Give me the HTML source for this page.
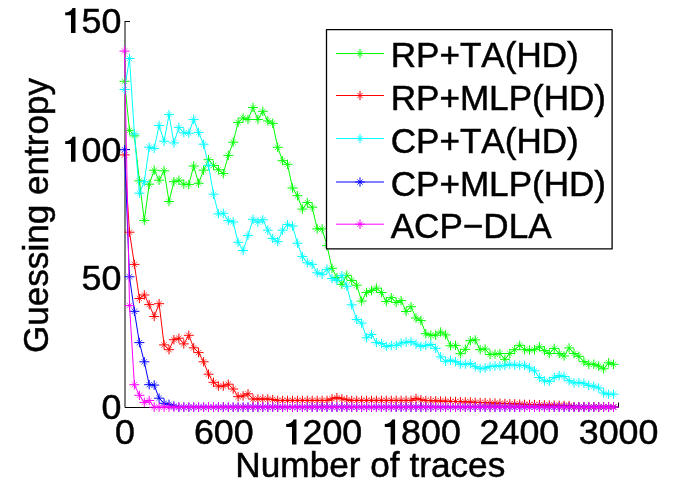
<!DOCTYPE html>
<html><head><meta charset="utf-8"><title>chart</title>
<style>
html,body{margin:0;padding:0;background:#fff;}
body{width:682px;height:496px;overflow:hidden;}
svg{display:block;will-change:transform;}
.l{font-size:35.1px !important;}
.k{font-size:35.8px !important;}
.t{stroke:#000;stroke-width:0.5px;font-family:"Liberation Sans",sans-serif;font-size:35.5px;fill:#000;font-kerning:none;}
</style></head><body>
<svg width="682" height="496" viewBox="0 0 682 496">
<rect width="682" height="496" fill="#fff"/>
<g stroke="#000" stroke-width="1" fill="none">
<path d="M125 21V407.5H618.5"/>
<path d="M125 21.5H130"/>
<path d="M125 149.5H130"/>
<path d="M223.5 407.5V402.5"/>
<path d="M322.5 407.5V402.5"/>
<path d="M421.0 407.5V402.5"/>
<path d="M519.5 407.5V402.5"/>
<path d="M618.5 407.5V402.5"/>
</g>
<polyline points="124.5,81.3 129.5,130.3 134.4,135.9 139.4,180.8 144.3,220.4 149.2,184.2 154.2,170.2 159.1,180.2 164.1,170.8 169.0,201.5 173.9,181.7 178.9,180.2 183.8,184.2 188.8,184.6 193.7,166.0 198.6,183.3 203.6,170.2 208.5,159.7 213.5,165.4 218.4,169.8 223.3,173.6 228.3,155.4 233.2,142.2 238.1,122.4 243.1,118.0 248.0,119.5 253.0,107.5 257.9,119.5 262.8,111.3 267.8,120.9 272.7,123.4 277.7,147.3 282.6,160.7 287.5,164.3 292.5,188.0 297.4,195.7 302.4,209.1 307.3,202.6 312.2,207.2 317.2,228.9 322.1,228.9 327.0,245.7 332.0,268.3 336.9,277.6 341.9,284.3 346.8,275.3 351.7,280.4 356.7,285.2 361.6,301.1 366.6,292.5 371.5,290.6 376.4,288.1 381.4,292.5 386.3,301.5 391.3,297.7 396.2,302.5 401.1,300.6 406.1,311.5 411.0,306.7 416.0,318.0 420.9,320.6 425.8,333.7 430.8,335.2 435.7,335.2 440.6,332.0 445.6,334.9 450.5,345.8 455.5,345.4 460.4,353.7 465.3,349.3 470.3,340.7 475.2,339.9 480.2,349.7 485.1,349.0 490.0,354.5 495.0,354.1 499.9,353.5 504.9,359.3 509.8,353.5 514.7,349.7 519.7,345.3 524.6,349.7 529.5,350.1 534.5,349.7 539.4,346.8 544.4,350.7 549.3,353.5 554.2,348.4 559.2,353.5 564.1,356.0 569.1,347.9 574.0,353.5 578.9,356.3 583.9,361.7 588.8,364.3 593.8,364.2 598.7,366.1 603.6,368.8 608.6,362.8 613.5,364.3" fill="none" stroke="#00ff00" stroke-width="1"/>
<path d="M119.5 81.3H129.6M124.5 76.6V86.0M124.5 130.3H134.5M129.5 125.6V135.0M129.4 135.9H139.4M134.4 131.2V140.6M134.4 180.8H144.4M139.4 176.1V185.5M139.3 220.4H149.3M144.3 215.7V225.1M144.2 184.2H154.2M149.2 179.5V188.9M149.2 170.2H159.2M154.2 165.5V174.9M154.1 180.2H164.1M159.1 175.5V184.9M159.1 170.8H169.1M164.1 166.1V175.5M164.0 201.5H174.0M169.0 196.8V206.2M168.9 181.7H178.9M173.9 177.0V186.4M173.9 180.2H183.9M178.9 175.5V184.9M178.8 184.2H188.8M183.8 179.5V188.9M183.8 184.6H193.8M188.8 179.9V189.3M188.7 166.0H198.7M193.7 161.3V170.7M193.6 183.3H203.6M198.6 178.6V188.0M198.6 170.2H208.6M203.6 165.5V174.9M203.5 159.7H213.5M208.5 155.0V164.4M208.5 165.4H218.5M213.5 160.7V170.1M213.4 169.8H223.4M218.4 165.1V174.5M218.3 173.6H228.3M223.3 168.9V178.3M223.3 155.4H233.3M228.3 150.7V160.1M228.2 142.2H238.2M233.2 137.5V146.9M233.1 122.4H243.1M238.1 117.7V127.1M238.1 118.0H248.1M243.1 113.3V122.7M243.0 119.5H253.0M248.0 114.8V124.2M248.0 107.5H258.0M253.0 102.8V112.2M252.9 119.5H262.9M257.9 114.8V124.2M257.8 111.3H267.8M262.8 106.6V116.0M262.8 120.9H272.8M267.8 116.2V125.6M267.7 123.4H277.7M272.7 118.7V128.1M272.7 147.3H282.7M277.7 142.6V152.0M277.6 160.7H287.6M282.6 156.0V165.4M282.5 164.3H292.5M287.5 159.6V169.0M287.5 188.0H297.5M292.5 183.3V192.7M292.4 195.7H302.4M297.4 191.0V200.4M297.4 209.1H307.4M302.4 204.4V213.8M302.3 202.6H312.3M307.3 197.9V207.3M307.2 207.2H317.2M312.2 202.5V211.9M312.2 228.9H322.2M317.2 224.2V233.6M317.1 228.9H327.1M322.1 224.2V233.6M322.0 245.7H332.0M327.0 241.0V250.4M327.0 268.3H337.0M332.0 263.6V273.0M331.9 277.6H341.9M336.9 272.9V282.3M336.9 284.3H346.9M341.9 279.6V289.0M341.8 275.3H351.8M346.8 270.6V280.0M346.7 280.4H356.7M351.7 275.7V285.1M351.7 285.2H361.7M356.7 280.5V289.9M356.6 301.1H366.6M361.6 296.4V305.8M361.6 292.5H371.6M366.6 287.8V297.2M366.5 290.6H376.5M371.5 285.9V295.3M371.4 288.1H381.4M376.4 283.4V292.8M376.4 292.5H386.4M381.4 287.8V297.2M381.3 301.5H391.3M386.3 296.8V306.2M386.3 297.7H396.3M391.3 293.0V302.4M391.2 302.5H401.2M396.2 297.8V307.2M396.1 300.6H406.1M401.1 295.9V305.3M401.1 311.5H411.1M406.1 306.8V316.2M406.0 306.7H416.0M411.0 302.0V311.4M411.0 318.0H421.0M416.0 313.3V322.7M415.9 320.6H425.9M420.9 315.9V325.3M420.8 333.7H430.8M425.8 329.0V338.4M425.8 335.2H435.8M430.8 330.5V339.9M430.7 335.2H440.7M435.7 330.5V339.9M435.6 332.0H445.6M440.6 327.3V336.7M440.6 334.9H450.6M445.6 330.2V339.6M445.5 345.8H455.5M450.5 341.1V350.5M450.5 345.4H460.5M455.5 340.7V350.1M455.4 353.7H465.4M460.4 349.0V358.4M460.3 349.3H470.3M465.3 344.6V354.0M465.3 340.7H475.3M470.3 336.0V345.4M470.2 339.9H480.2M475.2 335.2V344.6M475.2 349.7H485.2M480.2 345.0V354.4M480.1 349.0H490.1M485.1 344.3V353.7M485.0 354.5H495.0M490.0 349.8V359.2M490.0 354.1H500.0M495.0 349.4V358.8M494.9 353.5H504.9M499.9 348.8V358.2M499.9 359.3H509.9M504.9 354.6V364.0M504.8 353.5H514.8M509.8 348.8V358.2M509.7 349.7H519.7M514.7 345.0V354.4M514.7 345.3H524.7M519.7 340.6V350.0M519.6 349.7H529.6M524.6 345.0V354.4M524.5 350.1H534.5M529.5 345.4V354.8M529.5 349.7H539.5M534.5 345.0V354.4M534.4 346.8H544.4M539.4 342.1V351.5M539.4 350.7H549.4M544.4 346.0V355.4M544.3 353.5H554.3M549.3 348.8V358.2M549.2 348.4H559.2M554.2 343.7V353.1M554.2 353.5H564.2M559.2 348.8V358.2M559.1 356.0H569.1M564.1 351.3V360.7M564.1 347.9H574.1M569.1 343.2V352.6M569.0 353.5H579.0M574.0 348.8V358.2M573.9 356.3H583.9M578.9 351.6V361.0M578.9 361.7H588.9M583.9 357.0V366.4M583.8 364.3H593.8M588.8 359.6V369.0M588.8 364.2H598.8M593.8 359.5V368.9M593.7 366.1H603.7M598.7 361.4V370.8M598.6 368.8H608.6M603.6 364.1V373.5M603.6 362.8H613.6M608.6 358.1V367.5M608.5 364.3H618.5M613.5 359.6V369.0" fill="none" stroke="#00ff00" stroke-width="1"/>
<path d="M121.8 78.6L127.2 84.0M121.8 84.0L127.2 78.6M126.8 127.6L132.2 133.0M126.8 133.0L132.2 127.6M131.7 133.2L137.1 138.6M131.7 138.6L137.1 133.2M136.7 178.1L142.1 183.5M136.7 183.5L142.1 178.1M141.6 217.7L147.0 223.1M141.6 223.1L147.0 217.7M146.5 181.5L151.9 186.9M146.5 186.9L151.9 181.5M151.5 167.5L156.9 172.9M151.5 172.9L156.9 167.5M156.4 177.5L161.8 182.9M156.4 182.9L161.8 177.5M161.4 168.1L166.8 173.5M161.4 173.5L166.8 168.1M166.3 198.8L171.7 204.2M166.3 204.2L171.7 198.8M171.2 179.0L176.6 184.4M171.2 184.4L176.6 179.0M176.2 177.5L181.6 182.9M176.2 182.9L181.6 177.5M181.1 181.5L186.5 186.9M181.1 186.9L186.5 181.5M186.1 181.9L191.5 187.3M186.1 187.3L191.5 181.9M191.0 163.3L196.4 168.7M191.0 168.7L196.4 163.3M195.9 180.6L201.3 186.0M195.9 186.0L201.3 180.6M200.9 167.5L206.3 172.9M200.9 172.9L206.3 167.5M205.8 157.0L211.2 162.4M205.8 162.4L211.2 157.0M210.8 162.7L216.2 168.1M210.8 168.1L216.2 162.7M215.7 167.1L221.1 172.5M215.7 172.5L221.1 167.1M220.6 170.9L226.0 176.3M220.6 176.3L226.0 170.9M225.6 152.7L231.0 158.1M225.6 158.1L231.0 152.7M230.5 139.5L235.9 144.9M230.5 144.9L235.9 139.5M235.4 119.7L240.8 125.1M235.4 125.1L240.8 119.7M240.4 115.3L245.8 120.7M240.4 120.7L245.8 115.3M245.3 116.8L250.7 122.2M245.3 122.2L250.7 116.8M250.3 104.8L255.7 110.2M250.3 110.2L255.7 104.8M255.2 116.8L260.6 122.2M255.2 122.2L260.6 116.8M260.1 108.6L265.5 114.0M260.1 114.0L265.5 108.6M265.1 118.2L270.5 123.6M265.1 123.6L270.5 118.2M270.0 120.7L275.4 126.1M270.0 126.1L275.4 120.7M275.0 144.6L280.4 150.0M275.0 150.0L280.4 144.6M279.9 158.0L285.3 163.4M279.9 163.4L285.3 158.0M284.8 161.6L290.2 167.0M284.8 167.0L290.2 161.6M289.8 185.3L295.2 190.7M289.8 190.7L295.2 185.3M294.7 193.0L300.1 198.4M294.7 198.4L300.1 193.0M299.7 206.4L305.1 211.8M299.7 211.8L305.1 206.4M304.6 199.9L310.0 205.3M304.6 205.3L310.0 199.9M309.5 204.5L314.9 209.9M309.5 209.9L314.9 204.5M314.5 226.2L319.9 231.6M314.5 231.6L319.9 226.2M319.4 226.2L324.8 231.6M319.4 231.6L324.8 226.2M324.3 243.0L329.7 248.4M324.3 248.4L329.7 243.0M329.3 265.6L334.7 271.0M329.3 271.0L334.7 265.6M334.2 274.9L339.6 280.3M334.2 280.3L339.6 274.9M339.2 281.6L344.6 287.0M339.2 287.0L344.6 281.6M344.1 272.6L349.5 278.0M344.1 278.0L349.5 272.6M349.0 277.7L354.4 283.1M349.0 283.1L354.4 277.7M354.0 282.5L359.4 287.9M354.0 287.9L359.4 282.5M358.9 298.4L364.3 303.8M358.9 303.8L364.3 298.4M363.9 289.8L369.3 295.2M363.9 295.2L369.3 289.8M368.8 287.9L374.2 293.3M368.8 293.3L374.2 287.9M373.7 285.4L379.1 290.8M373.7 290.8L379.1 285.4M378.7 289.8L384.1 295.2M378.7 295.2L384.1 289.8M383.6 298.8L389.0 304.2M383.6 304.2L389.0 298.8M388.6 295.0L394.0 300.4M388.6 300.4L394.0 295.0M393.5 299.8L398.9 305.2M393.5 305.2L398.9 299.8M398.4 297.9L403.8 303.3M398.4 303.3L403.8 297.9M403.4 308.8L408.8 314.2M403.4 314.2L408.8 308.8M408.3 304.0L413.7 309.4M408.3 309.4L413.7 304.0M413.3 315.3L418.7 320.7M413.3 320.7L418.7 315.3M418.2 317.9L423.6 323.3M418.2 323.3L423.6 317.9M423.1 331.0L428.5 336.4M423.1 336.4L428.5 331.0M428.1 332.5L433.5 337.9M428.1 337.9L433.5 332.5M433.0 332.5L438.4 337.9M433.0 337.9L438.4 332.5M437.9 329.3L443.3 334.7M437.9 334.7L443.3 329.3M442.9 332.2L448.3 337.6M442.9 337.6L448.3 332.2M447.8 343.1L453.2 348.5M447.8 348.5L453.2 343.1M452.8 342.7L458.2 348.1M452.8 348.1L458.2 342.7M457.7 351.0L463.1 356.4M457.7 356.4L463.1 351.0M462.6 346.6L468.0 352.0M462.6 352.0L468.0 346.6M467.6 338.0L473.0 343.4M467.6 343.4L473.0 338.0M472.5 337.2L477.9 342.6M472.5 342.6L477.9 337.2M477.5 347.0L482.9 352.4M477.5 352.4L482.9 347.0M482.4 346.3L487.8 351.7M482.4 351.7L487.8 346.3M487.3 351.8L492.7 357.2M487.3 357.2L492.7 351.8M492.3 351.4L497.7 356.8M492.3 356.8L497.7 351.4M497.2 350.8L502.6 356.2M497.2 356.2L502.6 350.8M502.2 356.6L507.6 362.0M502.2 362.0L507.6 356.6M507.1 350.8L512.5 356.2M507.1 356.2L512.5 350.8M512.0 347.0L517.4 352.4M512.0 352.4L517.4 347.0M517.0 342.6L522.4 348.0M517.0 348.0L522.4 342.6M521.9 347.0L527.3 352.4M521.9 352.4L527.3 347.0M526.8 347.4L532.2 352.8M526.8 352.8L532.2 347.4M531.8 347.0L537.2 352.4M531.8 352.4L537.2 347.0M536.7 344.1L542.1 349.5M536.7 349.5L542.1 344.1M541.7 348.0L547.1 353.4M541.7 353.4L547.1 348.0M546.6 350.8L552.0 356.2M546.6 356.2L552.0 350.8M551.5 345.7L556.9 351.1M551.5 351.1L556.9 345.7M556.5 350.8L561.9 356.2M556.5 356.2L561.9 350.8M561.4 353.3L566.8 358.7M561.4 358.7L566.8 353.3M566.4 345.2L571.8 350.6M566.4 350.6L571.8 345.2M571.3 350.8L576.7 356.2M571.3 356.2L576.7 350.8M576.2 353.6L581.6 359.0M576.2 359.0L581.6 353.6M581.2 359.0L586.6 364.4M581.2 364.4L586.6 359.0M586.1 361.6L591.5 367.0M586.1 367.0L591.5 361.6M591.1 361.5L596.5 366.9M591.1 366.9L596.5 361.5M596.0 363.4L601.4 368.8M596.0 368.8L601.4 363.4M600.9 366.1L606.3 371.5M600.9 371.5L606.3 366.1M605.9 360.1L611.3 365.5M605.9 365.5L611.3 360.1M610.8 361.6L616.2 367.0M610.8 367.0L616.2 361.6" fill="none" stroke="#00ff00" stroke-width="0.7"/>

<polyline points="124.5,154.9 129.5,232.2 134.4,264.4 139.4,298.5 144.3,295.0 149.2,304.6 154.2,316.5 159.1,303.7 164.1,344.9 169.0,349.7 173.9,339.7 178.9,338.2 183.8,343.9 188.8,335.3 193.7,347.8 198.6,352.6 203.6,361.8 208.5,374.2 213.5,382.3 218.4,386.1 223.3,386.1 228.3,384.2 233.2,389.0 238.1,396.7 243.1,395.9 248.0,393.8 253.0,399.0 257.9,399.0 262.8,399.0 267.8,399.0 272.7,399.5 277.7,400.4 282.6,400.4 287.5,400.4 292.5,400.4 297.4,400.4 302.4,400.4 307.3,400.4 312.2,400.4 317.2,400.4 322.1,400.4 327.0,400.4 332.0,398.8 336.9,397.6 341.9,398.8 346.8,399.8 351.7,400.4 356.7,400.4 361.6,400.4 366.6,400.4 371.5,400.4 376.4,400.4 381.4,400.4 386.3,400.4 391.3,400.4 396.2,400.4 401.1,400.4 406.1,400.4 411.0,400.4 416.0,398.4 420.9,399.8 425.8,400.5 430.8,400.7 435.7,400.8 440.6,401.0 445.6,401.2 450.5,401.4 455.5,401.5 460.4,401.7 465.3,401.9 470.3,402.0 475.2,402.3 480.2,402.5 485.1,402.7 490.0,402.9 495.0,403.1 499.9,403.3 504.9,403.5 509.8,403.7 514.7,403.9 519.7,404.1 524.6,404.3 529.5,404.4 534.5,404.6 539.4,404.7 544.4,404.9 549.3,405.0 554.2,405.2 559.2,405.3 564.1,405.5 569.1,405.6 574.0,406.8 578.9,406.8 583.9,406.8 588.8,406.8 593.8,406.8 598.7,406.8 603.6,406.8 608.6,406.8 613.5,406.8" fill="none" stroke="#ff0000" stroke-width="1"/>
<path d="M119.5 154.9H129.6M124.5 150.2V159.6M124.5 232.2H134.5M129.5 227.5V236.9M129.4 264.4H139.4M134.4 259.7V269.1M134.4 298.5H144.4M139.4 293.8V303.2M139.3 295.0H149.3M144.3 290.3V299.7M144.2 304.6H154.2M149.2 299.9V309.3M149.2 316.5H159.2M154.2 311.8V321.2M154.1 303.7H164.1M159.1 299.0V308.4M159.1 344.9H169.1M164.1 340.2V349.6M164.0 349.7H174.0M169.0 345.0V354.4M168.9 339.7H178.9M173.9 335.0V344.4M173.9 338.2H183.9M178.9 333.5V342.9M178.8 343.9H188.8M183.8 339.2V348.6M183.8 335.3H193.8M188.8 330.6V340.0M188.7 347.8H198.7M193.7 343.1V352.5M193.6 352.6H203.6M198.6 347.9V357.3M198.6 361.8H208.6M203.6 357.1V366.5M203.5 374.2H213.5M208.5 369.5V378.9M208.5 382.3H218.5M213.5 377.6V387.0M213.4 386.1H223.4M218.4 381.4V390.8M218.3 386.1H228.3M223.3 381.4V390.8M223.3 384.2H233.3M228.3 379.5V388.9M228.2 389.0H238.2M233.2 384.3V393.7M233.1 396.7H243.1M238.1 392.0V401.4M238.1 395.9H248.1M243.1 391.2V400.6M243.0 393.8H253.0M248.0 389.1V398.5M248.0 399.0H258.0M253.0 394.3V403.7M252.9 399.0H262.9M257.9 394.3V403.7M257.8 399.0H267.8M262.8 394.3V403.7M262.8 399.0H272.8M267.8 394.3V403.7M267.7 399.5H277.7M272.7 394.8V404.2M272.7 400.4H282.7M277.7 395.7V405.1M277.6 400.4H287.6M282.6 395.7V405.1M282.5 400.4H292.5M287.5 395.7V405.1M287.5 400.4H297.5M292.5 395.7V405.1M292.4 400.4H302.4M297.4 395.7V405.1M297.4 400.4H307.4M302.4 395.7V405.1M302.3 400.4H312.3M307.3 395.7V405.1M307.2 400.4H317.2M312.2 395.7V405.1M312.2 400.4H322.2M317.2 395.7V405.1M317.1 400.4H327.1M322.1 395.7V405.1M322.0 400.4H332.0M327.0 395.7V405.1M327.0 398.8H337.0M332.0 394.1V403.5M331.9 397.6H341.9M336.9 392.9V402.3M336.9 398.8H346.9M341.9 394.1V403.5M341.8 399.8H351.8M346.8 395.1V404.5M346.7 400.4H356.7M351.7 395.7V405.1M351.7 400.4H361.7M356.7 395.7V405.1M356.6 400.4H366.6M361.6 395.7V405.1M361.6 400.4H371.6M366.6 395.7V405.1M366.5 400.4H376.5M371.5 395.7V405.1M371.4 400.4H381.4M376.4 395.7V405.1M376.4 400.4H386.4M381.4 395.7V405.1M381.3 400.4H391.3M386.3 395.7V405.1M386.3 400.4H396.3M391.3 395.7V405.1M391.2 400.4H401.2M396.2 395.7V405.1M396.1 400.4H406.1M401.1 395.7V405.1M401.1 400.4H411.1M406.1 395.7V405.1M406.0 400.4H416.0M411.0 395.7V405.1M411.0 398.4H421.0M416.0 393.7V403.1M415.9 399.8H425.9M420.9 395.1V404.5M420.8 400.5H430.8M425.8 395.8V405.2M425.8 400.7H435.8M430.8 396.0V405.4M430.7 400.8H440.7M435.7 396.1V405.5M435.6 401.0H445.6M440.6 396.3V405.7M440.6 401.2H450.6M445.6 396.5V405.9M445.5 401.4H455.5M450.5 396.7V406.1M450.5 401.5H460.5M455.5 396.8V406.2M455.4 401.7H465.4M460.4 397.0V406.4M460.3 401.9H470.3M465.3 397.2V406.6M465.3 402.0H475.3M470.3 397.3V406.7M470.2 402.3H480.2M475.2 397.6V407.0M475.2 402.5H485.2M480.2 397.8V407.2M480.1 402.7H490.1M485.1 398.0V407.4M485.0 402.9H495.0M490.0 398.2V407.6M490.0 403.1H500.0M495.0 398.4V407.8M494.9 403.3H504.9M499.9 398.6V408.0M499.9 403.5H509.9M504.9 398.8V408.2M504.8 403.7H514.8M509.8 399.0V408.4M509.7 403.9H519.7M514.7 399.2V408.6M514.7 404.1H524.7M519.7 399.4V408.8M519.6 404.3H529.6M524.6 399.6V409.0M524.5 404.4H534.5M529.5 399.7V409.1M529.5 404.6H539.5M534.5 399.9V409.3M534.4 404.7H544.4M539.4 400.0V409.4M539.4 404.9H549.4M544.4 400.2V409.6M544.3 405.0H554.3M549.3 400.3V409.7M549.2 405.2H559.2M554.2 400.5V409.9M554.2 405.3H564.2M559.2 400.6V410.0M559.1 405.5H569.1M564.1 400.8V410.2M564.1 405.6H574.1M569.1 400.9V410.3M569.0 406.8H579.0M574.0 402.1V411.5M573.9 406.8H583.9M578.9 402.1V411.5M578.9 406.8H588.9M583.9 402.1V411.5M583.8 406.8H593.8M588.8 402.1V411.5M588.8 406.8H598.8M593.8 402.1V411.5M593.7 406.8H603.7M598.7 402.1V411.5M598.6 406.8H608.6M603.6 402.1V411.5M603.6 406.8H613.6M608.6 402.1V411.5M608.5 406.8H618.5M613.5 402.1V411.5" fill="none" stroke="#ff0000" stroke-width="1"/>
<path d="M121.8 152.2L127.2 157.6M121.8 157.6L127.2 152.2M126.8 229.5L132.2 234.9M126.8 234.9L132.2 229.5M131.7 261.7L137.1 267.1M131.7 267.1L137.1 261.7M136.7 295.8L142.1 301.2M136.7 301.2L142.1 295.8M141.6 292.3L147.0 297.7M141.6 297.7L147.0 292.3M146.5 301.9L151.9 307.3M146.5 307.3L151.9 301.9M151.5 313.8L156.9 319.2M151.5 319.2L156.9 313.8M156.4 301.0L161.8 306.4M156.4 306.4L161.8 301.0M161.4 342.2L166.8 347.6M161.4 347.6L166.8 342.2M166.3 347.0L171.7 352.4M166.3 352.4L171.7 347.0M171.2 337.0L176.6 342.4M171.2 342.4L176.6 337.0M176.2 335.5L181.6 340.9M176.2 340.9L181.6 335.5M181.1 341.2L186.5 346.6M181.1 346.6L186.5 341.2M186.1 332.6L191.5 338.0M186.1 338.0L191.5 332.6M191.0 345.1L196.4 350.5M191.0 350.5L196.4 345.1M195.9 349.9L201.3 355.3M195.9 355.3L201.3 349.9M200.9 359.1L206.3 364.5M200.9 364.5L206.3 359.1M205.8 371.5L211.2 376.9M205.8 376.9L211.2 371.5M210.8 379.6L216.2 385.0M210.8 385.0L216.2 379.6M215.7 383.4L221.1 388.8M215.7 388.8L221.1 383.4M220.6 383.4L226.0 388.8M220.6 388.8L226.0 383.4M225.6 381.5L231.0 386.9M225.6 386.9L231.0 381.5M230.5 386.3L235.9 391.7M230.5 391.7L235.9 386.3M235.4 394.0L240.8 399.4M235.4 399.4L240.8 394.0M240.4 393.2L245.8 398.6M240.4 398.6L245.8 393.2M245.3 391.1L250.7 396.5M245.3 396.5L250.7 391.1M250.3 396.3L255.7 401.7M250.3 401.7L255.7 396.3M255.2 396.3L260.6 401.7M255.2 401.7L260.6 396.3M260.1 396.3L265.5 401.7M260.1 401.7L265.5 396.3M265.1 396.3L270.5 401.7M265.1 401.7L270.5 396.3M270.0 396.8L275.4 402.2M270.0 402.2L275.4 396.8M275.0 397.7L280.4 403.1M275.0 403.1L280.4 397.7M279.9 397.7L285.3 403.1M279.9 403.1L285.3 397.7M284.8 397.7L290.2 403.1M284.8 403.1L290.2 397.7M289.8 397.7L295.2 403.1M289.8 403.1L295.2 397.7M294.7 397.7L300.1 403.1M294.7 403.1L300.1 397.7M299.7 397.7L305.1 403.1M299.7 403.1L305.1 397.7M304.6 397.7L310.0 403.1M304.6 403.1L310.0 397.7M309.5 397.7L314.9 403.1M309.5 403.1L314.9 397.7M314.5 397.7L319.9 403.1M314.5 403.1L319.9 397.7M319.4 397.7L324.8 403.1M319.4 403.1L324.8 397.7M324.3 397.7L329.7 403.1M324.3 403.1L329.7 397.7M329.3 396.1L334.7 401.5M329.3 401.5L334.7 396.1M334.2 394.9L339.6 400.3M334.2 400.3L339.6 394.9M339.2 396.1L344.6 401.5M339.2 401.5L344.6 396.1M344.1 397.1L349.5 402.5M344.1 402.5L349.5 397.1M349.0 397.7L354.4 403.1M349.0 403.1L354.4 397.7M354.0 397.7L359.4 403.1M354.0 403.1L359.4 397.7M358.9 397.7L364.3 403.1M358.9 403.1L364.3 397.7M363.9 397.7L369.3 403.1M363.9 403.1L369.3 397.7M368.8 397.7L374.2 403.1M368.8 403.1L374.2 397.7M373.7 397.7L379.1 403.1M373.7 403.1L379.1 397.7M378.7 397.7L384.1 403.1M378.7 403.1L384.1 397.7M383.6 397.7L389.0 403.1M383.6 403.1L389.0 397.7M388.6 397.7L394.0 403.1M388.6 403.1L394.0 397.7M393.5 397.7L398.9 403.1M393.5 403.1L398.9 397.7M398.4 397.7L403.8 403.1M398.4 403.1L403.8 397.7M403.4 397.7L408.8 403.1M403.4 403.1L408.8 397.7M408.3 397.7L413.7 403.1M408.3 403.1L413.7 397.7M413.3 395.7L418.7 401.1M413.3 401.1L418.7 395.7M418.2 397.1L423.6 402.5M418.2 402.5L423.6 397.1M423.1 397.8L428.5 403.2M423.1 403.2L428.5 397.8M428.1 398.0L433.5 403.4M428.1 403.4L433.5 398.0M433.0 398.1L438.4 403.5M433.0 403.5L438.4 398.1M437.9 398.3L443.3 403.7M437.9 403.7L443.3 398.3M442.9 398.5L448.3 403.9M442.9 403.9L448.3 398.5M447.8 398.7L453.2 404.1M447.8 404.1L453.2 398.7M452.8 398.8L458.2 404.2M452.8 404.2L458.2 398.8M457.7 399.0L463.1 404.4M457.7 404.4L463.1 399.0M462.6 399.2L468.0 404.6M462.6 404.6L468.0 399.2M467.6 399.3L473.0 404.7M467.6 404.7L473.0 399.3M472.5 399.6L477.9 405.0M472.5 405.0L477.9 399.6M477.5 399.8L482.9 405.2M477.5 405.2L482.9 399.8M482.4 400.0L487.8 405.4M482.4 405.4L487.8 400.0M487.3 400.2L492.7 405.6M487.3 405.6L492.7 400.2M492.3 400.4L497.7 405.8M492.3 405.8L497.7 400.4M497.2 400.6L502.6 406.0M497.2 406.0L502.6 400.6M502.2 400.8L507.6 406.2M502.2 406.2L507.6 400.8M507.1 401.0L512.5 406.4M507.1 406.4L512.5 401.0M512.0 401.2L517.4 406.6M512.0 406.6L517.4 401.2M517.0 401.4L522.4 406.8M517.0 406.8L522.4 401.4M521.9 401.6L527.3 407.0M521.9 407.0L527.3 401.6M526.8 401.7L532.2 407.1M526.8 407.1L532.2 401.7M531.8 401.9L537.2 407.3M531.8 407.3L537.2 401.9M536.7 402.0L542.1 407.4M536.7 407.4L542.1 402.0M541.7 402.2L547.1 407.6M541.7 407.6L547.1 402.2M546.6 402.3L552.0 407.7M546.6 407.7L552.0 402.3M551.5 402.5L556.9 407.9M551.5 407.9L556.9 402.5M556.5 402.6L561.9 408.0M556.5 408.0L561.9 402.6M561.4 402.8L566.8 408.2M561.4 408.2L566.8 402.8M566.4 402.9L571.8 408.3M566.4 408.3L571.8 402.9M571.3 404.1L576.7 409.5M571.3 409.5L576.7 404.1M576.2 404.1L581.6 409.5M576.2 409.5L581.6 404.1M581.2 404.1L586.6 409.5M581.2 409.5L586.6 404.1M586.1 404.1L591.5 409.5M586.1 409.5L591.5 404.1M591.1 404.1L596.5 409.5M591.1 409.5L596.5 404.1M596.0 404.1L601.4 409.5M596.0 409.5L601.4 404.1M600.9 404.1L606.3 409.5M600.9 409.5L606.3 404.1M605.9 404.1L611.3 409.5M605.9 409.5L611.3 404.1M610.8 404.1L616.2 409.5M610.8 409.5L616.2 404.1" fill="none" stroke="#ff0000" stroke-width="0.7"/>

<polyline points="124.5,89.5 129.5,58.5 134.4,134.0 139.4,193.2 144.3,181.7 149.2,147.2 154.2,148.4 159.1,125.5 164.1,141.2 169.0,114.6 173.9,142.9 178.9,127.4 183.8,132.8 188.8,133.2 193.7,119.4 198.6,132.4 203.6,144.2 208.5,165.4 213.5,194.2 218.4,213.9 223.3,213.3 228.3,220.6 233.2,222.0 238.1,242.3 243.1,250.5 248.0,235.6 253.0,219.3 257.9,222.1 262.8,219.8 267.8,230.2 272.7,238.4 277.7,241.7 282.6,230.2 287.5,224.6 292.5,226.0 297.4,243.2 302.4,256.6 307.3,262.8 312.2,264.3 317.2,272.8 322.1,274.3 327.0,269.3 332.0,278.5 336.9,280.4 341.9,275.7 346.8,286.2 351.7,304.8 356.7,319.5 361.6,323.1 366.6,337.8 371.5,334.5 376.4,342.6 381.4,343.5 386.3,346.4 391.3,345.4 396.2,345.4 401.1,343.0 406.1,342.2 411.0,341.6 416.0,344.1 420.9,346.4 425.8,345.4 430.8,344.5 435.7,348.3 440.6,356.9 445.6,361.3 450.5,360.2 455.5,361.7 460.4,364.2 465.3,364.2 470.3,363.6 475.2,366.7 480.2,368.7 485.1,368.0 490.0,366.6 495.0,366.0 499.9,366.0 504.9,365.4 509.8,364.4 514.7,365.0 519.7,365.4 524.6,365.4 529.5,367.9 534.5,370.8 539.4,377.5 544.4,380.9 549.3,381.3 554.2,377.5 559.2,375.6 564.1,376.5 569.1,380.7 574.0,383.0 578.9,382.5 583.9,383.3 588.8,385.4 593.8,386.2 598.7,388.0 603.6,393.0 608.6,394.2 613.5,394.2" fill="none" stroke="#00ffff" stroke-width="1"/>
<path d="M119.5 89.5H129.6M124.5 84.8V94.2M124.5 58.5H134.5M129.5 53.8V63.2M129.4 134.0H139.4M134.4 129.3V138.7M134.4 193.2H144.4M139.4 188.5V197.9M139.3 181.7H149.3M144.3 177.0V186.4M144.2 147.2H154.2M149.2 142.5V151.9M149.2 148.4H159.2M154.2 143.7V153.1M154.1 125.5H164.1M159.1 120.8V130.2M159.1 141.2H169.1M164.1 136.5V145.9M164.0 114.6H174.0M169.0 109.9V119.3M168.9 142.9H178.9M173.9 138.2V147.6M173.9 127.4H183.9M178.9 122.7V132.1M178.8 132.8H188.8M183.8 128.1V137.5M183.8 133.2H193.8M188.8 128.5V137.9M188.7 119.4H198.7M193.7 114.7V124.1M193.6 132.4H203.6M198.6 127.7V137.1M198.6 144.2H208.6M203.6 139.5V148.9M203.5 165.4H213.5M208.5 160.7V170.1M208.5 194.2H218.5M213.5 189.5V198.9M213.4 213.9H223.4M218.4 209.2V218.6M218.3 213.3H228.3M223.3 208.6V218.0M223.3 220.6H233.3M228.3 215.9V225.3M228.2 222.0H238.2M233.2 217.3V226.7M233.1 242.3H243.1M238.1 237.6V247.0M238.1 250.5H248.1M243.1 245.8V255.2M243.0 235.6H253.0M248.0 230.9V240.3M248.0 219.3H258.0M253.0 214.6V224.0M252.9 222.1H262.9M257.9 217.4V226.8M257.8 219.8H267.8M262.8 215.1V224.5M262.8 230.2H272.8M267.8 225.5V234.9M267.7 238.4H277.7M272.7 233.7V243.1M272.7 241.7H282.7M277.7 237.0V246.4M277.6 230.2H287.6M282.6 225.5V234.9M282.5 224.6H292.5M287.5 219.9V229.3M287.5 226.0H297.5M292.5 221.3V230.7M292.4 243.2H302.4M297.4 238.5V247.9M297.4 256.6H307.4M302.4 251.9V261.3M302.3 262.8H312.3M307.3 258.1V267.5M307.2 264.3H317.2M312.2 259.6V269.0M312.2 272.8H322.2M317.2 268.1V277.5M317.1 274.3H327.1M322.1 269.6V279.0M322.0 269.3H332.0M327.0 264.6V274.0M327.0 278.5H337.0M332.0 273.8V283.2M331.9 280.4H341.9M336.9 275.7V285.1M336.9 275.7H346.9M341.9 271.0V280.4M341.8 286.2H351.8M346.8 281.5V290.9M346.7 304.8H356.7M351.7 300.1V309.5M351.7 319.5H361.7M356.7 314.8V324.2M356.6 323.1H366.6M361.6 318.4V327.8M361.6 337.8H371.6M366.6 333.1V342.5M366.5 334.5H376.5M371.5 329.8V339.2M371.4 342.6H381.4M376.4 337.9V347.3M376.4 343.5H386.4M381.4 338.8V348.2M381.3 346.4H391.3M386.3 341.7V351.1M386.3 345.4H396.3M391.3 340.7V350.1M391.2 345.4H401.2M396.2 340.7V350.1M396.1 343.0H406.1M401.1 338.3V347.7M401.1 342.2H411.1M406.1 337.5V346.9M406.0 341.6H416.0M411.0 336.9V346.3M411.0 344.1H421.0M416.0 339.4V348.8M415.9 346.4H425.9M420.9 341.7V351.1M420.8 345.4H430.8M425.8 340.7V350.1M425.8 344.5H435.8M430.8 339.8V349.2M430.7 348.3H440.7M435.7 343.6V353.0M435.6 356.9H445.6M440.6 352.2V361.6M440.6 361.3H450.6M445.6 356.6V366.0M445.5 360.2H455.5M450.5 355.5V364.9M450.5 361.7H460.5M455.5 357.0V366.4M455.4 364.2H465.4M460.4 359.5V368.9M460.3 364.2H470.3M465.3 359.5V368.9M465.3 363.6H475.3M470.3 358.9V368.3M470.2 366.7H480.2M475.2 362.0V371.4M475.2 368.7H485.2M480.2 364.0V373.4M480.1 368.0H490.1M485.1 363.3V372.7M485.0 366.6H495.0M490.0 361.9V371.3M490.0 366.0H500.0M495.0 361.3V370.7M494.9 366.0H504.9M499.9 361.3V370.7M499.9 365.4H509.9M504.9 360.7V370.1M504.8 364.4H514.8M509.8 359.7V369.1M509.7 365.0H519.7M514.7 360.3V369.7M514.7 365.4H524.7M519.7 360.7V370.1M519.6 365.4H529.6M524.6 360.7V370.1M524.5 367.9H534.5M529.5 363.2V372.6M529.5 370.8H539.5M534.5 366.1V375.5M534.4 377.5H544.4M539.4 372.8V382.2M539.4 380.9H549.4M544.4 376.2V385.6M544.3 381.3H554.3M549.3 376.6V386.0M549.2 377.5H559.2M554.2 372.8V382.2M554.2 375.6H564.2M559.2 370.9V380.3M559.1 376.5H569.1M564.1 371.8V381.2M564.1 380.7H574.1M569.1 376.0V385.4M569.0 383.0H579.0M574.0 378.3V387.7M573.9 382.5H583.9M578.9 377.8V387.2M578.9 383.3H588.9M583.9 378.6V388.0M583.8 385.4H593.8M588.8 380.7V390.1M588.8 386.2H598.8M593.8 381.5V390.9M593.7 388.0H603.7M598.7 383.3V392.7M598.6 393.0H608.6M603.6 388.3V397.7M603.6 394.2H613.6M608.6 389.5V398.9M608.5 394.2H618.5M613.5 389.5V398.9" fill="none" stroke="#00ffff" stroke-width="1"/>
<path d="M121.8 86.8L127.2 92.2M121.8 92.2L127.2 86.8M126.8 55.8L132.2 61.2M126.8 61.2L132.2 55.8M131.7 131.3L137.1 136.7M131.7 136.7L137.1 131.3M136.7 190.5L142.1 195.9M136.7 195.9L142.1 190.5M141.6 179.0L147.0 184.4M141.6 184.4L147.0 179.0M146.5 144.5L151.9 149.9M146.5 149.9L151.9 144.5M151.5 145.7L156.9 151.1M151.5 151.1L156.9 145.7M156.4 122.8L161.8 128.2M156.4 128.2L161.8 122.8M161.4 138.5L166.8 143.9M161.4 143.9L166.8 138.5M166.3 111.9L171.7 117.3M166.3 117.3L171.7 111.9M171.2 140.2L176.6 145.6M171.2 145.6L176.6 140.2M176.2 124.7L181.6 130.1M176.2 130.1L181.6 124.7M181.1 130.1L186.5 135.5M181.1 135.5L186.5 130.1M186.1 130.5L191.5 135.9M186.1 135.9L191.5 130.5M191.0 116.7L196.4 122.1M191.0 122.1L196.4 116.7M195.9 129.7L201.3 135.1M195.9 135.1L201.3 129.7M200.9 141.5L206.3 146.9M200.9 146.9L206.3 141.5M205.8 162.7L211.2 168.1M205.8 168.1L211.2 162.7M210.8 191.5L216.2 196.9M210.8 196.9L216.2 191.5M215.7 211.2L221.1 216.6M215.7 216.6L221.1 211.2M220.6 210.6L226.0 216.0M220.6 216.0L226.0 210.6M225.6 217.9L231.0 223.3M225.6 223.3L231.0 217.9M230.5 219.3L235.9 224.7M230.5 224.7L235.9 219.3M235.4 239.6L240.8 245.0M235.4 245.0L240.8 239.6M240.4 247.8L245.8 253.2M240.4 253.2L245.8 247.8M245.3 232.9L250.7 238.3M245.3 238.3L250.7 232.9M250.3 216.6L255.7 222.0M250.3 222.0L255.7 216.6M255.2 219.4L260.6 224.8M255.2 224.8L260.6 219.4M260.1 217.1L265.5 222.5M260.1 222.5L265.5 217.1M265.1 227.5L270.5 232.9M265.1 232.9L270.5 227.5M270.0 235.7L275.4 241.1M270.0 241.1L275.4 235.7M275.0 239.0L280.4 244.4M275.0 244.4L280.4 239.0M279.9 227.5L285.3 232.9M279.9 232.9L285.3 227.5M284.8 221.9L290.2 227.3M284.8 227.3L290.2 221.9M289.8 223.3L295.2 228.7M289.8 228.7L295.2 223.3M294.7 240.5L300.1 245.9M294.7 245.9L300.1 240.5M299.7 253.9L305.1 259.3M299.7 259.3L305.1 253.9M304.6 260.1L310.0 265.5M304.6 265.5L310.0 260.1M309.5 261.6L314.9 267.0M309.5 267.0L314.9 261.6M314.5 270.1L319.9 275.5M314.5 275.5L319.9 270.1M319.4 271.6L324.8 277.0M319.4 277.0L324.8 271.6M324.3 266.6L329.7 272.0M324.3 272.0L329.7 266.6M329.3 275.8L334.7 281.2M329.3 281.2L334.7 275.8M334.2 277.7L339.6 283.1M334.2 283.1L339.6 277.7M339.2 273.0L344.6 278.4M339.2 278.4L344.6 273.0M344.1 283.5L349.5 288.9M344.1 288.9L349.5 283.5M349.0 302.1L354.4 307.5M349.0 307.5L354.4 302.1M354.0 316.8L359.4 322.2M354.0 322.2L359.4 316.8M358.9 320.4L364.3 325.8M358.9 325.8L364.3 320.4M363.9 335.1L369.3 340.5M363.9 340.5L369.3 335.1M368.8 331.8L374.2 337.2M368.8 337.2L374.2 331.8M373.7 339.9L379.1 345.3M373.7 345.3L379.1 339.9M378.7 340.8L384.1 346.2M378.7 346.2L384.1 340.8M383.6 343.7L389.0 349.1M383.6 349.1L389.0 343.7M388.6 342.7L394.0 348.1M388.6 348.1L394.0 342.7M393.5 342.7L398.9 348.1M393.5 348.1L398.9 342.7M398.4 340.3L403.8 345.7M398.4 345.7L403.8 340.3M403.4 339.5L408.8 344.9M403.4 344.9L408.8 339.5M408.3 338.9L413.7 344.3M408.3 344.3L413.7 338.9M413.3 341.4L418.7 346.8M413.3 346.8L418.7 341.4M418.2 343.7L423.6 349.1M418.2 349.1L423.6 343.7M423.1 342.7L428.5 348.1M423.1 348.1L428.5 342.7M428.1 341.8L433.5 347.2M428.1 347.2L433.5 341.8M433.0 345.6L438.4 351.0M433.0 351.0L438.4 345.6M437.9 354.2L443.3 359.6M437.9 359.6L443.3 354.2M442.9 358.6L448.3 364.0M442.9 364.0L448.3 358.6M447.8 357.5L453.2 362.9M447.8 362.9L453.2 357.5M452.8 359.0L458.2 364.4M452.8 364.4L458.2 359.0M457.7 361.5L463.1 366.9M457.7 366.9L463.1 361.5M462.6 361.5L468.0 366.9M462.6 366.9L468.0 361.5M467.6 360.9L473.0 366.3M467.6 366.3L473.0 360.9M472.5 364.0L477.9 369.4M472.5 369.4L477.9 364.0M477.5 366.0L482.9 371.4M477.5 371.4L482.9 366.0M482.4 365.3L487.8 370.7M482.4 370.7L487.8 365.3M487.3 363.9L492.7 369.3M487.3 369.3L492.7 363.9M492.3 363.3L497.7 368.7M492.3 368.7L497.7 363.3M497.2 363.3L502.6 368.7M497.2 368.7L502.6 363.3M502.2 362.7L507.6 368.1M502.2 368.1L507.6 362.7M507.1 361.7L512.5 367.1M507.1 367.1L512.5 361.7M512.0 362.3L517.4 367.7M512.0 367.7L517.4 362.3M517.0 362.7L522.4 368.1M517.0 368.1L522.4 362.7M521.9 362.7L527.3 368.1M521.9 368.1L527.3 362.7M526.8 365.2L532.2 370.6M526.8 370.6L532.2 365.2M531.8 368.1L537.2 373.5M531.8 373.5L537.2 368.1M536.7 374.8L542.1 380.2M536.7 380.2L542.1 374.8M541.7 378.2L547.1 383.6M541.7 383.6L547.1 378.2M546.6 378.6L552.0 384.0M546.6 384.0L552.0 378.6M551.5 374.8L556.9 380.2M551.5 380.2L556.9 374.8M556.5 372.9L561.9 378.3M556.5 378.3L561.9 372.9M561.4 373.8L566.8 379.2M561.4 379.2L566.8 373.8M566.4 378.0L571.8 383.4M566.4 383.4L571.8 378.0M571.3 380.3L576.7 385.7M571.3 385.7L576.7 380.3M576.2 379.8L581.6 385.2M576.2 385.2L581.6 379.8M581.2 380.6L586.6 386.0M581.2 386.0L586.6 380.6M586.1 382.7L591.5 388.1M586.1 388.1L591.5 382.7M591.1 383.5L596.5 388.9M591.1 388.9L596.5 383.5M596.0 385.3L601.4 390.7M596.0 390.7L601.4 385.3M600.9 390.3L606.3 395.7M600.9 395.7L606.3 390.3M605.9 391.5L611.3 396.9M605.9 396.9L611.3 391.5M610.8 391.5L616.2 396.9M610.8 396.9L616.2 391.5" fill="none" stroke="#00ffff" stroke-width="0.7"/>

<polyline points="124.5,149.7 129.5,276.8 134.4,311.3 139.4,342.6 144.3,361.8 149.2,384.7 154.2,385.1 159.1,398.2 164.1,403.3 169.0,404.3 173.9,406.0 178.9,407.2 183.8,407.2 188.8,407.2 193.7,407.2 198.6,407.2 203.6,407.2 208.5,407.2 213.5,407.2 218.4,407.2 223.3,407.2 228.3,407.2 233.2,407.2 238.1,407.2 243.1,407.2 248.0,407.2 253.0,407.2 257.9,407.2 262.8,407.2 267.8,407.2 272.7,407.2 277.7,407.2 282.6,407.2 287.5,407.2 292.5,407.2 297.4,407.2 302.4,407.2 307.3,407.2 312.2,407.2 317.2,407.2 322.1,407.2 327.0,407.2 332.0,407.2 336.9,407.2 341.9,407.2 346.8,407.2 351.7,407.2 356.7,407.2 361.6,407.2 366.6,407.2 371.5,407.2 376.4,407.2 381.4,407.2 386.3,407.2 391.3,407.2 396.2,407.2 401.1,407.2 406.1,407.2 411.0,407.2 416.0,407.2 420.9,407.2 425.8,407.2 430.8,407.2 435.7,407.2 440.6,407.2 445.6,407.2 450.5,407.2 455.5,407.2 460.4,407.2 465.3,407.2 470.3,407.2 475.2,407.2 480.2,407.2 485.1,407.2 490.0,407.2 495.0,407.2 499.9,407.2 504.9,407.2 509.8,407.2 514.7,407.2 519.7,407.2 524.6,407.2 529.5,407.2 534.5,407.2 539.4,407.2 544.4,407.2 549.3,407.2 554.2,407.2 559.2,407.2 564.1,407.2 569.1,407.2 574.0,407.2 578.9,407.2 583.9,407.2 588.8,407.2 593.8,407.2 598.7,407.2 603.6,407.2 608.6,407.2 613.5,407.2" fill="none" stroke="#0000ff" stroke-width="1"/>
<path d="M119.5 149.7H129.6M124.5 145.0V154.4M124.5 276.8H134.5M129.5 272.1V281.5M129.4 311.3H139.4M134.4 306.6V316.0M134.4 342.6H144.4M139.4 337.9V347.3M139.3 361.8H149.3M144.3 357.1V366.5M144.2 384.7H154.2M149.2 380.0V389.4M149.2 385.1H159.2M154.2 380.4V389.8M154.1 398.2H164.1M159.1 393.5V402.9M159.1 403.3H169.1M164.1 398.6V408.0M164.0 404.3H174.0M169.0 399.6V409.0M168.9 406.0H178.9M173.9 401.3V410.7M173.9 407.2H183.9M178.9 402.5V411.9M178.8 407.2H188.8M183.8 402.5V411.9M183.8 407.2H193.8M188.8 402.5V411.9M188.7 407.2H198.7M193.7 402.5V411.9M193.6 407.2H203.6M198.6 402.5V411.9M198.6 407.2H208.6M203.6 402.5V411.9M203.5 407.2H213.5M208.5 402.5V411.9M208.5 407.2H218.5M213.5 402.5V411.9M213.4 407.2H223.4M218.4 402.5V411.9M218.3 407.2H228.3M223.3 402.5V411.9M223.3 407.2H233.3M228.3 402.5V411.9M228.2 407.2H238.2M233.2 402.5V411.9M233.1 407.2H243.1M238.1 402.5V411.9M238.1 407.2H248.1M243.1 402.5V411.9M243.0 407.2H253.0M248.0 402.5V411.9M248.0 407.2H258.0M253.0 402.5V411.9M252.9 407.2H262.9M257.9 402.5V411.9M257.8 407.2H267.8M262.8 402.5V411.9M262.8 407.2H272.8M267.8 402.5V411.9M267.7 407.2H277.7M272.7 402.5V411.9M272.7 407.2H282.7M277.7 402.5V411.9M277.6 407.2H287.6M282.6 402.5V411.9M282.5 407.2H292.5M287.5 402.5V411.9M287.5 407.2H297.5M292.5 402.5V411.9M292.4 407.2H302.4M297.4 402.5V411.9M297.4 407.2H307.4M302.4 402.5V411.9M302.3 407.2H312.3M307.3 402.5V411.9M307.2 407.2H317.2M312.2 402.5V411.9M312.2 407.2H322.2M317.2 402.5V411.9M317.1 407.2H327.1M322.1 402.5V411.9M322.0 407.2H332.0M327.0 402.5V411.9M327.0 407.2H337.0M332.0 402.5V411.9M331.9 407.2H341.9M336.9 402.5V411.9M336.9 407.2H346.9M341.9 402.5V411.9M341.8 407.2H351.8M346.8 402.5V411.9M346.7 407.2H356.7M351.7 402.5V411.9M351.7 407.2H361.7M356.7 402.5V411.9M356.6 407.2H366.6M361.6 402.5V411.9M361.6 407.2H371.6M366.6 402.5V411.9M366.5 407.2H376.5M371.5 402.5V411.9M371.4 407.2H381.4M376.4 402.5V411.9M376.4 407.2H386.4M381.4 402.5V411.9M381.3 407.2H391.3M386.3 402.5V411.9M386.3 407.2H396.3M391.3 402.5V411.9M391.2 407.2H401.2M396.2 402.5V411.9M396.1 407.2H406.1M401.1 402.5V411.9M401.1 407.2H411.1M406.1 402.5V411.9M406.0 407.2H416.0M411.0 402.5V411.9M411.0 407.2H421.0M416.0 402.5V411.9M415.9 407.2H425.9M420.9 402.5V411.9M420.8 407.2H430.8M425.8 402.5V411.9M425.8 407.2H435.8M430.8 402.5V411.9M430.7 407.2H440.7M435.7 402.5V411.9M435.6 407.2H445.6M440.6 402.5V411.9M440.6 407.2H450.6M445.6 402.5V411.9M445.5 407.2H455.5M450.5 402.5V411.9M450.5 407.2H460.5M455.5 402.5V411.9M455.4 407.2H465.4M460.4 402.5V411.9M460.3 407.2H470.3M465.3 402.5V411.9M465.3 407.2H475.3M470.3 402.5V411.9M470.2 407.2H480.2M475.2 402.5V411.9M475.2 407.2H485.2M480.2 402.5V411.9M480.1 407.2H490.1M485.1 402.5V411.9M485.0 407.2H495.0M490.0 402.5V411.9M490.0 407.2H500.0M495.0 402.5V411.9M494.9 407.2H504.9M499.9 402.5V411.9M499.9 407.2H509.9M504.9 402.5V411.9M504.8 407.2H514.8M509.8 402.5V411.9M509.7 407.2H519.7M514.7 402.5V411.9M514.7 407.2H524.7M519.7 402.5V411.9M519.6 407.2H529.6M524.6 402.5V411.9M524.5 407.2H534.5M529.5 402.5V411.9M529.5 407.2H539.5M534.5 402.5V411.9M534.4 407.2H544.4M539.4 402.5V411.9M539.4 407.2H549.4M544.4 402.5V411.9M544.3 407.2H554.3M549.3 402.5V411.9M549.2 407.2H559.2M554.2 402.5V411.9M554.2 407.2H564.2M559.2 402.5V411.9M559.1 407.2H569.1M564.1 402.5V411.9M564.1 407.2H574.1M569.1 402.5V411.9M569.0 407.2H579.0M574.0 402.5V411.9M573.9 407.2H583.9M578.9 402.5V411.9M578.9 407.2H588.9M583.9 402.5V411.9M583.8 407.2H593.8M588.8 402.5V411.9M588.8 407.2H598.8M593.8 402.5V411.9M593.7 407.2H603.7M598.7 402.5V411.9M598.6 407.2H608.6M603.6 402.5V411.9M603.6 407.2H613.6M608.6 402.5V411.9M608.5 407.2H618.5M613.5 402.5V411.9" fill="none" stroke="#0000ff" stroke-width="1"/>
<path d="M121.8 147.0L127.2 152.4M121.8 152.4L127.2 147.0M126.8 274.1L132.2 279.5M126.8 279.5L132.2 274.1M131.7 308.6L137.1 314.0M131.7 314.0L137.1 308.6M136.7 339.9L142.1 345.3M136.7 345.3L142.1 339.9M141.6 359.1L147.0 364.5M141.6 364.5L147.0 359.1M146.5 382.0L151.9 387.4M146.5 387.4L151.9 382.0M151.5 382.4L156.9 387.8M151.5 387.8L156.9 382.4M156.4 395.5L161.8 400.9M156.4 400.9L161.8 395.5M161.4 400.6L166.8 406.0M161.4 406.0L166.8 400.6M166.3 401.6L171.7 407.0M166.3 407.0L171.7 401.6M171.2 403.3L176.6 408.7M171.2 408.7L176.6 403.3M176.2 404.5L181.6 409.9M176.2 409.9L181.6 404.5M181.1 404.5L186.5 409.9M181.1 409.9L186.5 404.5M186.1 404.5L191.5 409.9M186.1 409.9L191.5 404.5M191.0 404.5L196.4 409.9M191.0 409.9L196.4 404.5M195.9 404.5L201.3 409.9M195.9 409.9L201.3 404.5M200.9 404.5L206.3 409.9M200.9 409.9L206.3 404.5M205.8 404.5L211.2 409.9M205.8 409.9L211.2 404.5M210.8 404.5L216.2 409.9M210.8 409.9L216.2 404.5M215.7 404.5L221.1 409.9M215.7 409.9L221.1 404.5M220.6 404.5L226.0 409.9M220.6 409.9L226.0 404.5M225.6 404.5L231.0 409.9M225.6 409.9L231.0 404.5M230.5 404.5L235.9 409.9M230.5 409.9L235.9 404.5M235.4 404.5L240.8 409.9M235.4 409.9L240.8 404.5M240.4 404.5L245.8 409.9M240.4 409.9L245.8 404.5M245.3 404.5L250.7 409.9M245.3 409.9L250.7 404.5M250.3 404.5L255.7 409.9M250.3 409.9L255.7 404.5M255.2 404.5L260.6 409.9M255.2 409.9L260.6 404.5M260.1 404.5L265.5 409.9M260.1 409.9L265.5 404.5M265.1 404.5L270.5 409.9M265.1 409.9L270.5 404.5M270.0 404.5L275.4 409.9M270.0 409.9L275.4 404.5M275.0 404.5L280.4 409.9M275.0 409.9L280.4 404.5M279.9 404.5L285.3 409.9M279.9 409.9L285.3 404.5M284.8 404.5L290.2 409.9M284.8 409.9L290.2 404.5M289.8 404.5L295.2 409.9M289.8 409.9L295.2 404.5M294.7 404.5L300.1 409.9M294.7 409.9L300.1 404.5M299.7 404.5L305.1 409.9M299.7 409.9L305.1 404.5M304.6 404.5L310.0 409.9M304.6 409.9L310.0 404.5M309.5 404.5L314.9 409.9M309.5 409.9L314.9 404.5M314.5 404.5L319.9 409.9M314.5 409.9L319.9 404.5M319.4 404.5L324.8 409.9M319.4 409.9L324.8 404.5M324.3 404.5L329.7 409.9M324.3 409.9L329.7 404.5M329.3 404.5L334.7 409.9M329.3 409.9L334.7 404.5M334.2 404.5L339.6 409.9M334.2 409.9L339.6 404.5M339.2 404.5L344.6 409.9M339.2 409.9L344.6 404.5M344.1 404.5L349.5 409.9M344.1 409.9L349.5 404.5M349.0 404.5L354.4 409.9M349.0 409.9L354.4 404.5M354.0 404.5L359.4 409.9M354.0 409.9L359.4 404.5M358.9 404.5L364.3 409.9M358.9 409.9L364.3 404.5M363.9 404.5L369.3 409.9M363.9 409.9L369.3 404.5M368.8 404.5L374.2 409.9M368.8 409.9L374.2 404.5M373.7 404.5L379.1 409.9M373.7 409.9L379.1 404.5M378.7 404.5L384.1 409.9M378.7 409.9L384.1 404.5M383.6 404.5L389.0 409.9M383.6 409.9L389.0 404.5M388.6 404.5L394.0 409.9M388.6 409.9L394.0 404.5M393.5 404.5L398.9 409.9M393.5 409.9L398.9 404.5M398.4 404.5L403.8 409.9M398.4 409.9L403.8 404.5M403.4 404.5L408.8 409.9M403.4 409.9L408.8 404.5M408.3 404.5L413.7 409.9M408.3 409.9L413.7 404.5M413.3 404.5L418.7 409.9M413.3 409.9L418.7 404.5M418.2 404.5L423.6 409.9M418.2 409.9L423.6 404.5M423.1 404.5L428.5 409.9M423.1 409.9L428.5 404.5M428.1 404.5L433.5 409.9M428.1 409.9L433.5 404.5M433.0 404.5L438.4 409.9M433.0 409.9L438.4 404.5M437.9 404.5L443.3 409.9M437.9 409.9L443.3 404.5M442.9 404.5L448.3 409.9M442.9 409.9L448.3 404.5M447.8 404.5L453.2 409.9M447.8 409.9L453.2 404.5M452.8 404.5L458.2 409.9M452.8 409.9L458.2 404.5M457.7 404.5L463.1 409.9M457.7 409.9L463.1 404.5M462.6 404.5L468.0 409.9M462.6 409.9L468.0 404.5M467.6 404.5L473.0 409.9M467.6 409.9L473.0 404.5M472.5 404.5L477.9 409.9M472.5 409.9L477.9 404.5M477.5 404.5L482.9 409.9M477.5 409.9L482.9 404.5M482.4 404.5L487.8 409.9M482.4 409.9L487.8 404.5M487.3 404.5L492.7 409.9M487.3 409.9L492.7 404.5M492.3 404.5L497.7 409.9M492.3 409.9L497.7 404.5M497.2 404.5L502.6 409.9M497.2 409.9L502.6 404.5M502.2 404.5L507.6 409.9M502.2 409.9L507.6 404.5M507.1 404.5L512.5 409.9M507.1 409.9L512.5 404.5M512.0 404.5L517.4 409.9M512.0 409.9L517.4 404.5M517.0 404.5L522.4 409.9M517.0 409.9L522.4 404.5M521.9 404.5L527.3 409.9M521.9 409.9L527.3 404.5M526.8 404.5L532.2 409.9M526.8 409.9L532.2 404.5M531.8 404.5L537.2 409.9M531.8 409.9L537.2 404.5M536.7 404.5L542.1 409.9M536.7 409.9L542.1 404.5M541.7 404.5L547.1 409.9M541.7 409.9L547.1 404.5M546.6 404.5L552.0 409.9M546.6 409.9L552.0 404.5M551.5 404.5L556.9 409.9M551.5 409.9L556.9 404.5M556.5 404.5L561.9 409.9M556.5 409.9L561.9 404.5M561.4 404.5L566.8 409.9M561.4 409.9L566.8 404.5M566.4 404.5L571.8 409.9M566.4 409.9L571.8 404.5M571.3 404.5L576.7 409.9M571.3 409.9L576.7 404.5M576.2 404.5L581.6 409.9M576.2 409.9L581.6 404.5M581.2 404.5L586.6 409.9M581.2 409.9L586.6 404.5M586.1 404.5L591.5 409.9M586.1 409.9L591.5 404.5M591.1 404.5L596.5 409.9M591.1 409.9L596.5 404.5M596.0 404.5L601.4 409.9M596.0 409.9L601.4 404.5M600.9 404.5L606.3 409.9M600.9 409.9L606.3 404.5M605.9 404.5L611.3 409.9M605.9 409.9L611.3 404.5M610.8 404.5L616.2 409.9M610.8 409.9L616.2 404.5" fill="none" stroke="#0000ff" stroke-width="0.7"/>

<polyline points="124.5,51.1 129.5,305.6 134.4,384.7 139.4,395.3 144.3,402.4 149.2,400.5 154.2,407.2 159.1,407.2 164.1,407.2 169.0,407.2 173.9,407.2 178.9,407.2 183.8,407.2 188.8,407.2 193.7,407.2 198.6,407.2 203.6,407.2 208.5,407.2 213.5,407.2 218.4,407.2 223.3,407.2 228.3,407.2 233.2,407.2 238.1,407.2 243.1,407.2 248.0,407.2 253.0,407.2 257.9,407.2 262.8,407.2 267.8,407.2 272.7,407.2 277.7,407.2 282.6,407.2 287.5,407.2 292.5,407.2 297.4,407.2 302.4,407.2 307.3,407.2 312.2,407.2 317.2,407.2 322.1,407.2 327.0,407.2 332.0,407.2 336.9,407.2 341.9,407.2 346.8,407.2 351.7,407.2 356.7,407.2 361.6,407.2 366.6,407.2 371.5,407.2 376.4,407.2 381.4,407.2 386.3,407.2 391.3,407.2 396.2,407.2 401.1,407.2 406.1,407.2 411.0,407.2 416.0,407.2 420.9,407.2 425.8,407.2 430.8,407.2 435.7,407.2 440.6,407.2 445.6,407.2 450.5,407.2 455.5,407.2 460.4,407.2 465.3,407.2 470.3,407.2 475.2,407.2 480.2,407.2 485.1,407.2 490.0,407.2 495.0,407.2 499.9,407.2 504.9,407.2 509.8,407.2 514.7,407.2 519.7,407.2 524.6,407.2 529.5,407.2 534.5,407.2 539.4,407.2 544.4,407.2 549.3,407.2 554.2,407.2 559.2,407.2 564.1,407.2 569.1,407.2 574.0,407.2 578.9,407.2 583.9,407.2 588.8,407.2 593.8,407.2 598.7,407.2 603.6,407.2 608.6,407.2 613.5,407.2" fill="none" stroke="#ff00ff" stroke-width="1"/>
<path d="M119.5 51.1H129.6M124.5 46.4V55.8M124.5 305.6H134.5M129.5 300.9V310.3M129.4 384.7H139.4M134.4 380.0V389.4M134.4 395.3H144.4M139.4 390.6V400.0M139.3 402.4H149.3M144.3 397.7V407.1M144.2 400.5H154.2M149.2 395.8V405.2M149.2 407.2H159.2M154.2 402.5V411.9M154.1 407.2H164.1M159.1 402.5V411.9M159.1 407.2H169.1M164.1 402.5V411.9M164.0 407.2H174.0M169.0 402.5V411.9M168.9 407.2H178.9M173.9 402.5V411.9M173.9 407.2H183.9M178.9 402.5V411.9M178.8 407.2H188.8M183.8 402.5V411.9M183.8 407.2H193.8M188.8 402.5V411.9M188.7 407.2H198.7M193.7 402.5V411.9M193.6 407.2H203.6M198.6 402.5V411.9M198.6 407.2H208.6M203.6 402.5V411.9M203.5 407.2H213.5M208.5 402.5V411.9M208.5 407.2H218.5M213.5 402.5V411.9M213.4 407.2H223.4M218.4 402.5V411.9M218.3 407.2H228.3M223.3 402.5V411.9M223.3 407.2H233.3M228.3 402.5V411.9M228.2 407.2H238.2M233.2 402.5V411.9M233.1 407.2H243.1M238.1 402.5V411.9M238.1 407.2H248.1M243.1 402.5V411.9M243.0 407.2H253.0M248.0 402.5V411.9M248.0 407.2H258.0M253.0 402.5V411.9M252.9 407.2H262.9M257.9 402.5V411.9M257.8 407.2H267.8M262.8 402.5V411.9M262.8 407.2H272.8M267.8 402.5V411.9M267.7 407.2H277.7M272.7 402.5V411.9M272.7 407.2H282.7M277.7 402.5V411.9M277.6 407.2H287.6M282.6 402.5V411.9M282.5 407.2H292.5M287.5 402.5V411.9M287.5 407.2H297.5M292.5 402.5V411.9M292.4 407.2H302.4M297.4 402.5V411.9M297.4 407.2H307.4M302.4 402.5V411.9M302.3 407.2H312.3M307.3 402.5V411.9M307.2 407.2H317.2M312.2 402.5V411.9M312.2 407.2H322.2M317.2 402.5V411.9M317.1 407.2H327.1M322.1 402.5V411.9M322.0 407.2H332.0M327.0 402.5V411.9M327.0 407.2H337.0M332.0 402.5V411.9M331.9 407.2H341.9M336.9 402.5V411.9M336.9 407.2H346.9M341.9 402.5V411.9M341.8 407.2H351.8M346.8 402.5V411.9M346.7 407.2H356.7M351.7 402.5V411.9M351.7 407.2H361.7M356.7 402.5V411.9M356.6 407.2H366.6M361.6 402.5V411.9M361.6 407.2H371.6M366.6 402.5V411.9M366.5 407.2H376.5M371.5 402.5V411.9M371.4 407.2H381.4M376.4 402.5V411.9M376.4 407.2H386.4M381.4 402.5V411.9M381.3 407.2H391.3M386.3 402.5V411.9M386.3 407.2H396.3M391.3 402.5V411.9M391.2 407.2H401.2M396.2 402.5V411.9M396.1 407.2H406.1M401.1 402.5V411.9M401.1 407.2H411.1M406.1 402.5V411.9M406.0 407.2H416.0M411.0 402.5V411.9M411.0 407.2H421.0M416.0 402.5V411.9M415.9 407.2H425.9M420.9 402.5V411.9M420.8 407.2H430.8M425.8 402.5V411.9M425.8 407.2H435.8M430.8 402.5V411.9M430.7 407.2H440.7M435.7 402.5V411.9M435.6 407.2H445.6M440.6 402.5V411.9M440.6 407.2H450.6M445.6 402.5V411.9M445.5 407.2H455.5M450.5 402.5V411.9M450.5 407.2H460.5M455.5 402.5V411.9M455.4 407.2H465.4M460.4 402.5V411.9M460.3 407.2H470.3M465.3 402.5V411.9M465.3 407.2H475.3M470.3 402.5V411.9M470.2 407.2H480.2M475.2 402.5V411.9M475.2 407.2H485.2M480.2 402.5V411.9M480.1 407.2H490.1M485.1 402.5V411.9M485.0 407.2H495.0M490.0 402.5V411.9M490.0 407.2H500.0M495.0 402.5V411.9M494.9 407.2H504.9M499.9 402.5V411.9M499.9 407.2H509.9M504.9 402.5V411.9M504.8 407.2H514.8M509.8 402.5V411.9M509.7 407.2H519.7M514.7 402.5V411.9M514.7 407.2H524.7M519.7 402.5V411.9M519.6 407.2H529.6M524.6 402.5V411.9M524.5 407.2H534.5M529.5 402.5V411.9M529.5 407.2H539.5M534.5 402.5V411.9M534.4 407.2H544.4M539.4 402.5V411.9M539.4 407.2H549.4M544.4 402.5V411.9M544.3 407.2H554.3M549.3 402.5V411.9M549.2 407.2H559.2M554.2 402.5V411.9M554.2 407.2H564.2M559.2 402.5V411.9M559.1 407.2H569.1M564.1 402.5V411.9M564.1 407.2H574.1M569.1 402.5V411.9M569.0 407.2H579.0M574.0 402.5V411.9M573.9 407.2H583.9M578.9 402.5V411.9M578.9 407.2H588.9M583.9 402.5V411.9M583.8 407.2H593.8M588.8 402.5V411.9M588.8 407.2H598.8M593.8 402.5V411.9M593.7 407.2H603.7M598.7 402.5V411.9M598.6 407.2H608.6M603.6 402.5V411.9M603.6 407.2H613.6M608.6 402.5V411.9M608.5 407.2H618.5M613.5 402.5V411.9" fill="none" stroke="#ff00ff" stroke-width="1"/>
<path d="M121.8 48.4L127.2 53.8M121.8 53.8L127.2 48.4M126.8 302.9L132.2 308.3M126.8 308.3L132.2 302.9M131.7 382.0L137.1 387.4M131.7 387.4L137.1 382.0M136.7 392.6L142.1 398.0M136.7 398.0L142.1 392.6M141.6 399.7L147.0 405.1M141.6 405.1L147.0 399.7M146.5 397.8L151.9 403.2M146.5 403.2L151.9 397.8M151.5 404.5L156.9 409.9M151.5 409.9L156.9 404.5M156.4 404.5L161.8 409.9M156.4 409.9L161.8 404.5M161.4 404.5L166.8 409.9M161.4 409.9L166.8 404.5M166.3 404.5L171.7 409.9M166.3 409.9L171.7 404.5M171.2 404.5L176.6 409.9M171.2 409.9L176.6 404.5M176.2 404.5L181.6 409.9M176.2 409.9L181.6 404.5M181.1 404.5L186.5 409.9M181.1 409.9L186.5 404.5M186.1 404.5L191.5 409.9M186.1 409.9L191.5 404.5M191.0 404.5L196.4 409.9M191.0 409.9L196.4 404.5M195.9 404.5L201.3 409.9M195.9 409.9L201.3 404.5M200.9 404.5L206.3 409.9M200.9 409.9L206.3 404.5M205.8 404.5L211.2 409.9M205.8 409.9L211.2 404.5M210.8 404.5L216.2 409.9M210.8 409.9L216.2 404.5M215.7 404.5L221.1 409.9M215.7 409.9L221.1 404.5M220.6 404.5L226.0 409.9M220.6 409.9L226.0 404.5M225.6 404.5L231.0 409.9M225.6 409.9L231.0 404.5M230.5 404.5L235.9 409.9M230.5 409.9L235.9 404.5M235.4 404.5L240.8 409.9M235.4 409.9L240.8 404.5M240.4 404.5L245.8 409.9M240.4 409.9L245.8 404.5M245.3 404.5L250.7 409.9M245.3 409.9L250.7 404.5M250.3 404.5L255.7 409.9M250.3 409.9L255.7 404.5M255.2 404.5L260.6 409.9M255.2 409.9L260.6 404.5M260.1 404.5L265.5 409.9M260.1 409.9L265.5 404.5M265.1 404.5L270.5 409.9M265.1 409.9L270.5 404.5M270.0 404.5L275.4 409.9M270.0 409.9L275.4 404.5M275.0 404.5L280.4 409.9M275.0 409.9L280.4 404.5M279.9 404.5L285.3 409.9M279.9 409.9L285.3 404.5M284.8 404.5L290.2 409.9M284.8 409.9L290.2 404.5M289.8 404.5L295.2 409.9M289.8 409.9L295.2 404.5M294.7 404.5L300.1 409.9M294.7 409.9L300.1 404.5M299.7 404.5L305.1 409.9M299.7 409.9L305.1 404.5M304.6 404.5L310.0 409.9M304.6 409.9L310.0 404.5M309.5 404.5L314.9 409.9M309.5 409.9L314.9 404.5M314.5 404.5L319.9 409.9M314.5 409.9L319.9 404.5M319.4 404.5L324.8 409.9M319.4 409.9L324.8 404.5M324.3 404.5L329.7 409.9M324.3 409.9L329.7 404.5M329.3 404.5L334.7 409.9M329.3 409.9L334.7 404.5M334.2 404.5L339.6 409.9M334.2 409.9L339.6 404.5M339.2 404.5L344.6 409.9M339.2 409.9L344.6 404.5M344.1 404.5L349.5 409.9M344.1 409.9L349.5 404.5M349.0 404.5L354.4 409.9M349.0 409.9L354.4 404.5M354.0 404.5L359.4 409.9M354.0 409.9L359.4 404.5M358.9 404.5L364.3 409.9M358.9 409.9L364.3 404.5M363.9 404.5L369.3 409.9M363.9 409.9L369.3 404.5M368.8 404.5L374.2 409.9M368.8 409.9L374.2 404.5M373.7 404.5L379.1 409.9M373.7 409.9L379.1 404.5M378.7 404.5L384.1 409.9M378.7 409.9L384.1 404.5M383.6 404.5L389.0 409.9M383.6 409.9L389.0 404.5M388.6 404.5L394.0 409.9M388.6 409.9L394.0 404.5M393.5 404.5L398.9 409.9M393.5 409.9L398.9 404.5M398.4 404.5L403.8 409.9M398.4 409.9L403.8 404.5M403.4 404.5L408.8 409.9M403.4 409.9L408.8 404.5M408.3 404.5L413.7 409.9M408.3 409.9L413.7 404.5M413.3 404.5L418.7 409.9M413.3 409.9L418.7 404.5M418.2 404.5L423.6 409.9M418.2 409.9L423.6 404.5M423.1 404.5L428.5 409.9M423.1 409.9L428.5 404.5M428.1 404.5L433.5 409.9M428.1 409.9L433.5 404.5M433.0 404.5L438.4 409.9M433.0 409.9L438.4 404.5M437.9 404.5L443.3 409.9M437.9 409.9L443.3 404.5M442.9 404.5L448.3 409.9M442.9 409.9L448.3 404.5M447.8 404.5L453.2 409.9M447.8 409.9L453.2 404.5M452.8 404.5L458.2 409.9M452.8 409.9L458.2 404.5M457.7 404.5L463.1 409.9M457.7 409.9L463.1 404.5M462.6 404.5L468.0 409.9M462.6 409.9L468.0 404.5M467.6 404.5L473.0 409.9M467.6 409.9L473.0 404.5M472.5 404.5L477.9 409.9M472.5 409.9L477.9 404.5M477.5 404.5L482.9 409.9M477.5 409.9L482.9 404.5M482.4 404.5L487.8 409.9M482.4 409.9L487.8 404.5M487.3 404.5L492.7 409.9M487.3 409.9L492.7 404.5M492.3 404.5L497.7 409.9M492.3 409.9L497.7 404.5M497.2 404.5L502.6 409.9M497.2 409.9L502.6 404.5M502.2 404.5L507.6 409.9M502.2 409.9L507.6 404.5M507.1 404.5L512.5 409.9M507.1 409.9L512.5 404.5M512.0 404.5L517.4 409.9M512.0 409.9L517.4 404.5M517.0 404.5L522.4 409.9M517.0 409.9L522.4 404.5M521.9 404.5L527.3 409.9M521.9 409.9L527.3 404.5M526.8 404.5L532.2 409.9M526.8 409.9L532.2 404.5M531.8 404.5L537.2 409.9M531.8 409.9L537.2 404.5M536.7 404.5L542.1 409.9M536.7 409.9L542.1 404.5M541.7 404.5L547.1 409.9M541.7 409.9L547.1 404.5M546.6 404.5L552.0 409.9M546.6 409.9L552.0 404.5M551.5 404.5L556.9 409.9M551.5 409.9L556.9 404.5M556.5 404.5L561.9 409.9M556.5 409.9L561.9 404.5M561.4 404.5L566.8 409.9M561.4 409.9L566.8 404.5M566.4 404.5L571.8 409.9M566.4 409.9L571.8 404.5M571.3 404.5L576.7 409.9M571.3 409.9L576.7 404.5M576.2 404.5L581.6 409.9M576.2 409.9L581.6 404.5M581.2 404.5L586.6 409.9M581.2 409.9L586.6 404.5M586.1 404.5L591.5 409.9M586.1 409.9L591.5 404.5M591.1 404.5L596.5 409.9M591.1 409.9L596.5 404.5M596.0 404.5L601.4 409.9M596.0 409.9L601.4 404.5M600.9 404.5L606.3 409.9M600.9 409.9L606.3 404.5M605.9 404.5L611.3 409.9M605.9 409.9L611.3 404.5M610.8 404.5L616.2 409.9M610.8 409.9L616.2 404.5" fill="none" stroke="#ff00ff" stroke-width="0.7"/>

<rect x="326.5" y="29.6" width="285.6" height="219.3" fill="#fff" stroke="#000" stroke-width="1.3" stroke-linejoin="round"/>
<path d="M336 53.5H384" stroke="#00ff00" stroke-width="1" fill="none"/>
<path d="M355.2 53.5H364.8M360.0 48.8V58.2" fill="none" stroke="#00ff00" stroke-width="1"/><path d="M357.4 50.9L362.6 56.1M357.4 56.1L362.6 50.9" fill="none" stroke="#00ff00" stroke-width="0.9"/>
<text x="390.7" y="67.2" class="t l">RP+TA(HD)</text>
<path d="M336 95.5H384" stroke="#ff0000" stroke-width="1" fill="none"/>
<path d="M355.2 95.5H364.8M360.0 90.8V100.2" fill="none" stroke="#ff0000" stroke-width="1"/><path d="M357.4 92.9L362.6 98.1M357.4 98.1L362.6 92.9" fill="none" stroke="#ff0000" stroke-width="0.9"/>
<text x="390.7" y="110.0" class="t l">RP+MLP(HD)</text>
<path d="M336 138.5H384" stroke="#00ffff" stroke-width="1" fill="none"/>
<path d="M355.2 138.5H364.8M360.0 133.8V143.2" fill="none" stroke="#00ffff" stroke-width="1"/><path d="M357.4 135.9L362.6 141.1M357.4 141.1L362.6 135.9" fill="none" stroke="#00ffff" stroke-width="0.9"/>
<text x="390.7" y="152.7" class="t l">CP+TA(HD)</text>
<path d="M336 182.0H384" stroke="#0000ff" stroke-width="1" fill="none"/>
<path d="M355.2 182.0H364.8M360.0 177.3V186.7" fill="none" stroke="#0000ff" stroke-width="1"/><path d="M357.4 179.4L362.6 184.6M357.4 184.6L362.6 179.4" fill="none" stroke="#0000ff" stroke-width="0.9"/>
<text x="390.7" y="195.7" class="t l">CP+MLP(HD)</text>
<path d="M336 224.2H384" stroke="#ff00ff" stroke-width="1" fill="none"/>
<path d="M355.2 224.2H364.8M360.0 219.5V228.9" fill="none" stroke="#ff00ff" stroke-width="1"/><path d="M357.4 221.6L362.6 226.8M357.4 226.8L362.6 221.6" fill="none" stroke="#ff00ff" stroke-width="0.9"/>
<text x="390.7" y="238.4" class="t l">ACP−DLA</text>
<path transform="translate(61.59 32.80)" d="M13.9 -24.9V0.2H9.4V-17.5H3.6V-20.4C6.9 -20.6 9.8 -21.9 11 -24.9Z" fill="#000"/><text x="81.49" y="32.8" class="t k">50</text>
<path transform="translate(61.59 161.60)" d="M13.9 -24.9V0.2H9.4V-17.5H3.6V-20.4C6.9 -20.6 9.8 -21.9 11 -24.9Z" fill="#000"/><text x="81.49" y="161.6" class="t k">00</text>
<text x="81.49" y="289.5" class="t k">50</text>
<text x="101.40" y="419.2" class="t k">0</text>
<text x="114.95" y="444.4" class="t k">0</text>
<text x="193.94" y="444.4" class="t k">600</text>
<path transform="translate(282.59 444.40)" d="M13.9 -24.9V0.2H9.4V-17.5H3.6V-20.4C6.9 -20.6 9.8 -21.9 11 -24.9Z" fill="#000"/><text x="302.50" y="444.4" class="t k">200</text>
<path transform="translate(381.19 444.40)" d="M13.9 -24.9V0.2H9.4V-17.5H3.6V-20.4C6.9 -20.6 9.8 -21.9 11 -24.9Z" fill="#000"/><text x="401.10" y="444.4" class="t k">800</text>
<text x="479.59" y="444.4" class="t k">2400</text>
<text x="578.79" y="444.4" class="t k">3000</text>
<text x="370.3" y="476.5" class="t" style="font-size:35.2px" text-anchor="middle">Number of traces</text>
<text transform="translate(47.6 215.5) rotate(-90)" class="t" style="font-size:35.1px" text-anchor="middle">Guessing entropy</text>
</svg>
</body></html>
